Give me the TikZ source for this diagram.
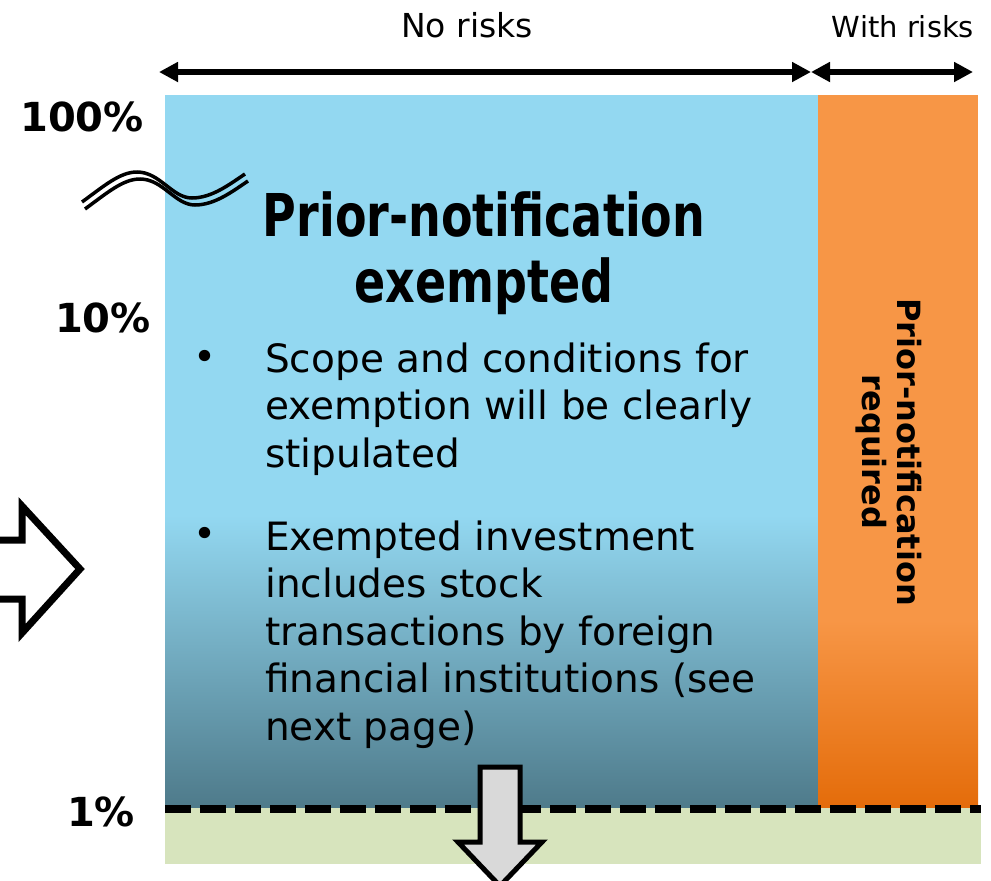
\documentclass[tikz,border=0pt]{standalone}
\usepackage{fontspec}
\setmainfont{DejaVu Sans}
\newfontfamily\titlefont{DejaVu Sans}[FakeStretch=0.78]
\usetikzlibrary{arrows.meta}
\definecolor{skyb}{RGB}{147,216,241}
\definecolor{tealb}{RGB}{78,122,138}
\definecolor{orgl}{RGB}{247,150,70}
\definecolor{orgd}{RGB}{228,108,10}
\definecolor{grnl}{RGB}{215,228,189}
\tikzset{
    pctnode/.style = {inner sep=0pt, font=\bfseries\fontsize{40}{44}\selectfont, text=black},
    spannode/.style = {inner sep=0pt, anchor=base, text=black},
    titlenode/.style = {inner sep=0pt, anchor=base, align=center, font=\titlefont\bfseries\fontsize{59}{66}\selectfont},
    bulletnode/.style = {inner sep=0pt, anchor=base west, align=left, font=\fontsize{39}{47.5}\selectfont},
    dotnode/.style = {inner sep=0pt, font=\fontsize{39}{39}\selectfont},
    sidenode/.style = {inner sep=0pt, rotate=-90, align=center, font=\bfseries\fontsize{32}{35}\selectfont},
    spanarrow/.style = {{Triangle[length=19pt,width=19pt]}-{Triangle[length=19pt,width=19pt]}, line width=6pt},
    bigarrow/.style = {line width=7pt, draw=black, line join=miter},
    wave/.style = {line width=3.5pt, black}
}

\begin{document}
\begin{tikzpicture}[x=1pt, y=-1pt]
  \useasboundingbox (0,0) rectangle (991,881);
  % areas
  \fill[skyb] (165,95) rectangle (818,515);
  \shade[top color=skyb, bottom color=tealb] (165,515) rectangle (818,808);
  \fill[orgl] (818,95) rectangle (978,620);
  \shade[top color=orgl, bottom color=orgd] (818,620) rectangle (978,808);
  \fill[grnl] (165,808) rectangle (981,864);
  \draw[line width=8pt, dash pattern=on 26pt off 9pt] (165,809) -- (981,809);

  % ranges on top
  \coordinate (nl) at (159,72);
  \coordinate (nr) at (811,72);
  \coordinate (wr) at (973,72);
  \draw[spanarrow] (nl) -- (nr);
  \draw[spanarrow] (nr) -- (wr);
  \node[spannode, font=\fontsize{33}{40}\selectfont] (norisk) at (467,37) {No risks};
  \node[spannode, font=\fontsize{29}{34}\selectfont] (withrisk) at (903,37) {With risks};

  % percentages
  \node[pctnode] (p100) at (82,117) {100\%};
  \node[pctnode] (p10) at (103,318) {10\%};
  \node[pctnode] (p1) at (101,812) {1\%};

  % wave
  \draw[wave] (82,202) .. controls (104,186) and (120,172) .. (137,172)
    .. controls (160,172) and (172,198) .. (192,198)
    .. controls (212,198) and (230,184) .. (245,174);
  \draw[wave] (85,209) .. controls (107,193) and (123,179) .. (140,179)
    .. controls (163,179) and (175,205) .. (195,205)
    .. controls (215,205) and (233,191) .. (248,181);

  % texts (base = last line)
  \node[titlenode] (exempt) at (484,302) {Prior-notification\\exempted};
  \node[dotnode] (dot1) at (205,360) {\textbullet};
  \node[bulletnode] (item1) at (265,467) {Scope and conditions for\\exemption will be clearly\\stipulated};
  \node[dotnode] (dot2) at (205,537) {\textbullet};
  \node[bulletnode] (item2) at (265,740) {Exempted investment\\includes stock\\transactions by foreign\\financial institutions (see\\next page)};
  \node[sidenode] (required) at (889,452) {Prior-notification\\required};

  % block arrows
  \draw[bigarrow, fill=white] (-20,540) -- (22,540) -- (22,506) -- (80,569)
    -- (22,633) -- (22,599) -- (-20,599) -- cycle;
  \draw[bigarrow, line width=5pt, fill=black!15] (480,767) -- (520,767) -- (520,842)
    -- (542,842) -- (500,886) -- (458,842) -- (480,842) -- cycle;
\end{tikzpicture}
\end{document}
